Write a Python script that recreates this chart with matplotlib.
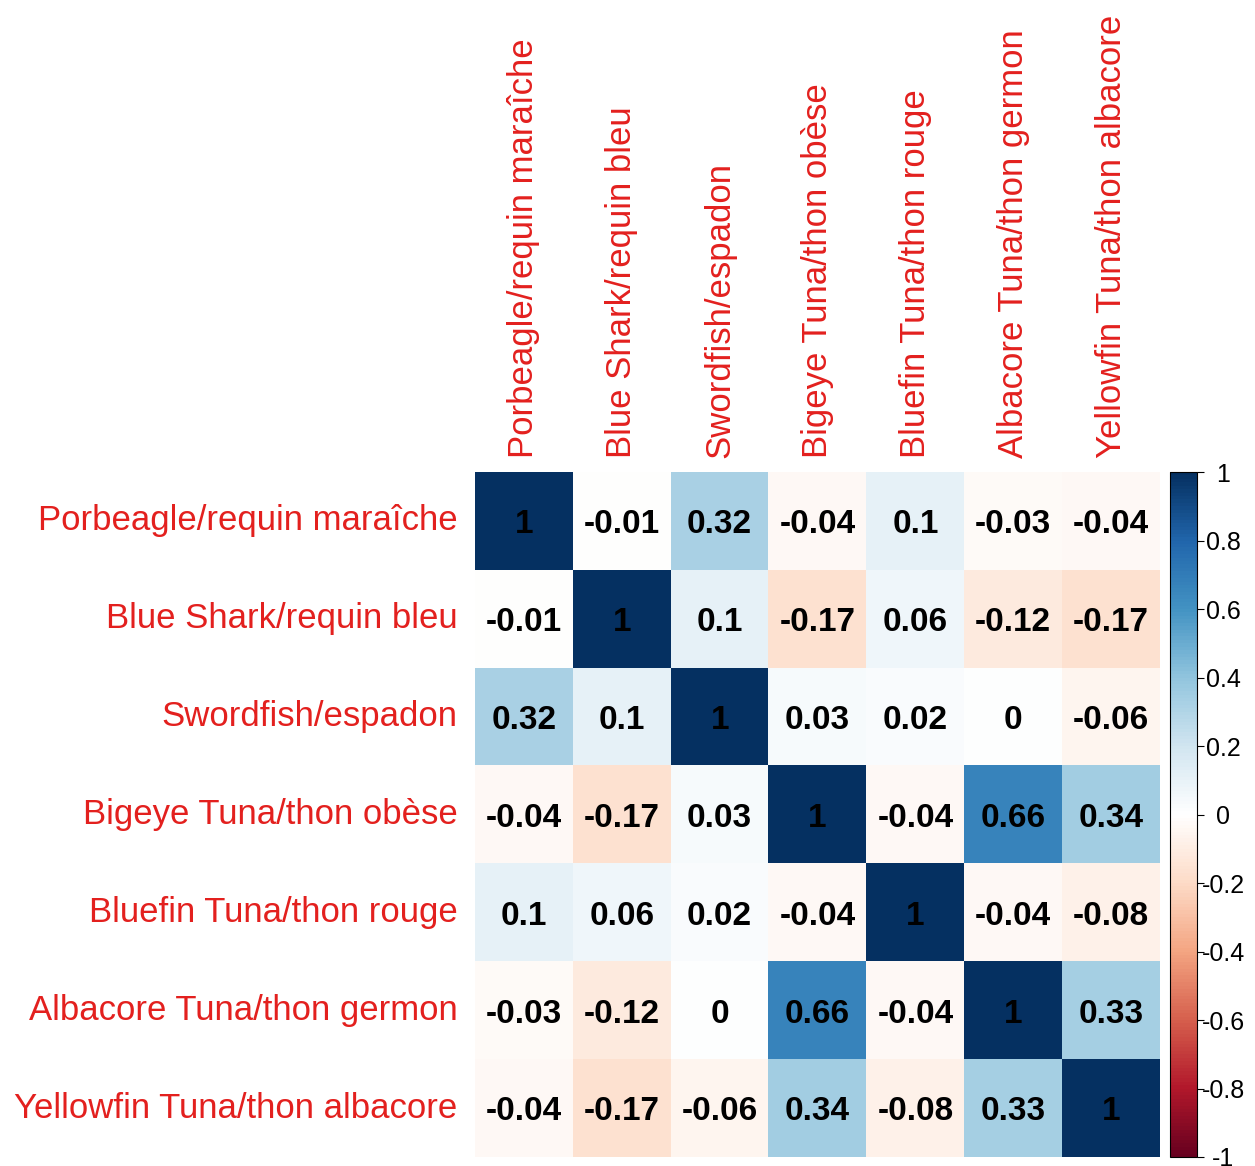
import numpy as np
import matplotlib
matplotlib.use("Agg")
import matplotlib.pyplot as plt
from matplotlib.colors import LinearSegmentedColormap

species = [
    "Porbeagle/requin maraîche",
    "Blue Shark/requin bleu",
    "Swordfish/espadon",
    "Bigeye Tuna/thon obèse",
    "Bluefin Tuna/thon rouge",
    "Albacore Tuna/thon germon",
    "Yellowfin Tuna/thon albacore",
]

row_porbeagle = [1, -0.01, 0.32, -0.04, 0.1, -0.03, -0.04]
row_blue_shark = [-0.01, 1, 0.1, -0.17, 0.06, -0.12, -0.17]
row_swordfish = [0.32, 0.1, 1, 0.03, 0.02, 0, -0.06]
row_bigeye = [-0.04, -0.17, 0.03, 1, -0.04, 0.66, 0.34]
row_bluefin = [0.1, 0.06, 0.02, -0.04, 1, -0.04, -0.08]
row_albacore = [-0.03, -0.12, 0, 0.66, -0.04, 1, 0.33]
row_yellowfin = [-0.04, -0.17, -0.06, 0.34, -0.08, 0.33, 1]

colorbar_ticks = [-1, -0.8, -0.6, -0.4, -0.2, 0, 0.2, 0.4, 0.6, 0.8, 1]

corr = np.array([row_porbeagle, row_blue_shark, row_swordfish, row_bigeye,
                 row_bluefin, row_albacore, row_yellowfin])

rdbu = LinearSegmentedColormap.from_list(
    "rdbu_corr",
    ["#67001F", "#B2182B", "#D6604D", "#F4A582", "#FDDBC7", "#FFFFFF",
     "#D1E5F0", "#92C5DE", "#4393C3", "#2166AC", "#053061"], N=200)

plt.rcParams["font.family"] = ["Liberation Sans", "DejaVu Sans"]

W, H = 1255, 1166
fig = plt.figure(figsize=(W / 100, H / 100), dpi=100)
ax = fig.add_axes([475 / W, 1 - 1157 / H, 685 / W, 685 / H])

n = len(species)
im = ax.imshow(corr, cmap=rdbu, vmin=-1, vmax=1, extent=(0, n, n, 0),
               interpolation="nearest", aspect="auto")


def fmt(v):
    s = f"{v:.2f}".rstrip("0").rstrip(".")
    return "0" if s in ("-0", "") else s


for i in range(n):
    for j in range(n):
        ax.text(j + 0.5, i + 0.54, fmt(corr[i, j]), ha="center", va="center",
                fontsize=24, fontweight="bold", color="black")

ax.set_xlim(0, n)
ax.set_ylim(n, 0)
ax.set_xticks([])
ax.set_yticks([])
for s in ax.spines.values():
    s.set_visible(False)

label_red = "#E3201E"
for k, name in enumerate(species):
    ax.text(-0.18, k + 0.5, name, ha="right", va="center", fontsize=25,
            color=label_red)
    ax.text(k + 0.5, -0.14, name, ha="center", va="bottom", rotation=90,
            fontsize=25, color=label_red)

cax = fig.add_axes([1170 / W, 1 - 1157 / H, 27 / W, 685 / H])
cb = fig.colorbar(im, cax=cax, ticks=colorbar_ticks)
cb.ax.set_yticklabels([fmt(t) for t in colorbar_ticks])
cb.ax.tick_params(labelsize=18, length=5, width=0.8, pad=14)
for lab in cb.ax.get_yticklabels():
    lab.set_horizontalalignment("center")
cb.outline.set_linewidth(0.8)

fig.savefig("out.png", dpi=100)
